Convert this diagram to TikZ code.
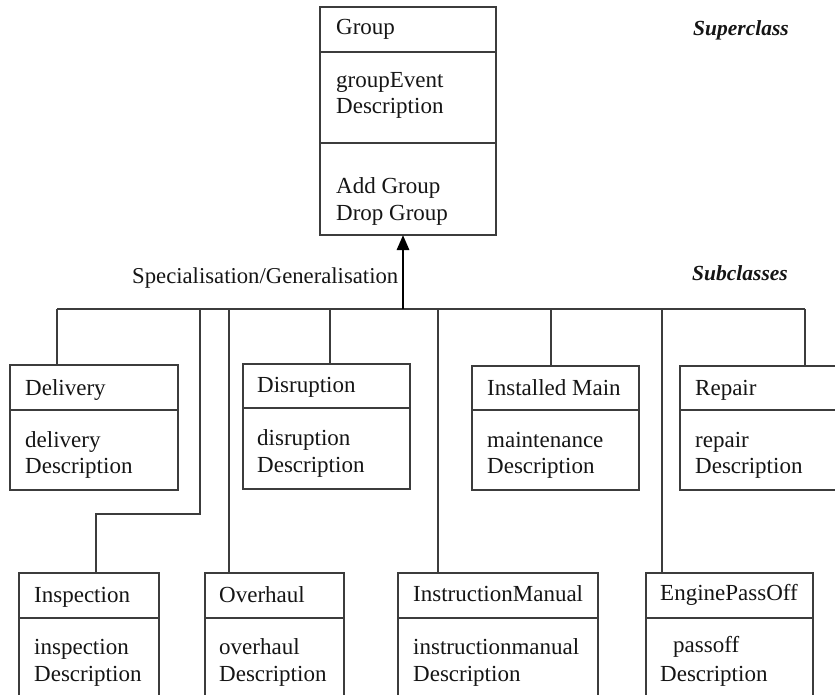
\documentclass[tikz,border=0pt]{standalone}
\usepackage{fontspec}
\setmainfont{Liberation Serif}
\usetikzlibrary{arrows.meta}
\definecolor{edge}{HTML}{3C3C3C}
\definecolor{ink}{HTML}{151515}
\tikzset{
  x=1pt, y=-1pt,
  classbox/.style={draw=edge, line width=1.6pt, rectangle, inner sep=0pt, outer sep=0pt, anchor=north west},
  divider/.style={draw=edge, line width=1.6pt},
  link/.style={draw=edge, line width=1.6pt},
  lbl/.style={anchor=base west, inner sep=0pt, text=ink, font=\fontsize{23}{26}\selectfont},
  tag/.style={anchor=base west, inner sep=0pt, text=ink, font=\fontsize{21.5}{24}\selectfont\bfseries\itshape},
}
\begin{document}
\begin{tikzpicture}
\useasboundingbox (0,0) rectangle (835,695);
\clip (0,0) rectangle (835,695);
\fill[white] (0,0) rectangle (835,695);

% superclass
\node[classbox, minimum width=176pt, minimum height=228pt] (group) at (320,7) {};
\draw[divider] (320,52) -- (496,52);
\draw[divider] (320,143) -- (496,143);
\node[lbl] (groupT) at (336,35) {Group};
\node[lbl] (groupA1) at (336,88) {groupEvent};
\node[lbl] (groupA2) at (336,114) {Description};
\node[lbl] (groupO1) at (336,194) {Add Group};
\node[lbl] (groupO2) at (336,221) {Drop Group};

% upper row of subclasses
\node[classbox, minimum width=168pt, minimum height=125pt] (delivery) at (10,365) {};
\draw[divider] (10,410) -- (178,410);
\node[lbl] (deliveryT) at (25,395) {Delivery};
\node[lbl] (deliveryA1) at (25,447) {delivery};
\node[lbl] (deliveryA2) at (25,473) {Description};

\node[classbox, minimum width=167pt, minimum height=125pt] (disruption) at (243,364) {};
\draw[divider] (243,408) -- (410,408);
\node[lbl] (disruptionT) at (257,392) {Disruption};
\node[lbl] (disruptionA1) at (257,445) {disruption};
\node[lbl] (disruptionA2) at (257,472) {Description};

\node[classbox, minimum width=167pt, minimum height=124pt] (installed) at (472,366) {};
\draw[divider] (472,410) -- (639,410);
\node[lbl] (installedT) at (487,395) {Installed Main};
\node[lbl] (installedA1) at (487,447) {maintenance};
\node[lbl] (installedA2) at (487,473) {Description};

\node[classbox, minimum width=180pt, minimum height=124pt] (repair) at (680,366) {};
\draw[divider] (680,410) -- (860,410);
\node[lbl] (repairT) at (695,395) {Repair};
\node[lbl] (repairA1) at (695,447) {repair};
\node[lbl] (repairA2) at (695,473) {Description};

% lower row of subclasses
\node[classbox, minimum width=140pt, minimum height=150pt] (inspection) at (19,573) {};
\draw[divider] (19,618) -- (159,618);
\node[lbl] (inspectionT) at (34,602) {Inspection};
\node[lbl] (inspectionA1) at (34,654) {inspection};
\node[lbl] (inspectionA2) at (34,681) {Description};

\node[classbox, minimum width=139pt, minimum height=150pt] (overhaul) at (205,573) {};
\draw[divider] (205,618) -- (344,618);
\node[lbl] (overhaulT) at (219,602) {Overhaul};
\node[lbl] (overhaulA1) at (219,654) {overhaul};
\node[lbl] (overhaulA2) at (219,681) {Description};

\node[classbox, minimum width=200pt, minimum height=150pt] (instruction) at (398,573) {};
\draw[divider] (398,618) -- (598,618);
\node[lbl] (instructionT) at (413,601) {InstructionManual};
\node[lbl] (instructionA1) at (413,654) {instructionmanual};
\node[lbl] (instructionA2) at (413,681) {Description};

\node[classbox, minimum width=167pt, minimum height=150pt] (engine) at (646,573) {};
\draw[divider] (646,618) -- (813,618);
\node[lbl] (engineT) at (660,600) {EnginePassOff};
\node[lbl] (engineA1) at (673,652) {passoff};
\node[lbl] (engineA2) at (660,681) {Description};

% generalisation bus
\coordinate (busL) at (57,309);
\coordinate (busR) at (805,309);
\coordinate (bInsp) at (200,309);
\coordinate (jInsp) at (96,514);
\coordinate (bOver) at (229,309);
\coordinate (bDisr) at (330,309);
\coordinate (bUp) at (403,309);
\coordinate (bInst) at (438,309);
\coordinate (bMain) at (551,309);
\coordinate (bEng) at (662,309);

\draw[link] (busL) -- (busR);
\draw[link] (busL) -- (busL |- delivery.north);
\draw[link] (bInsp) -- (bInsp |- jInsp) -- (jInsp) -- (jInsp |- inspection.north);
\draw[link] (bOver) -- (bOver |- overhaul.north);
\draw[link] (bDisr) -- (bDisr |- disruption.north);
\draw[link] (bInst) -- (bInst |- instruction.north);
\draw[link] (bMain) -- (bMain |- installed.north);
\draw[link] (bEng) -- (bEng |- engine.north);
\draw[link] (busR) -- (busR |- repair.north);
\draw[line width=2.8pt, black, -{Triangle[length=15pt,width=12pt]}] (bUp) -- (bUp |- group.south);

% labels
\node[lbl, font=\fontsize{22.7}{26}\selectfont] (genLbl) at (132,283) {Specialisation/Generalisation};
\node[tag] (superLbl) at (693,36) {Superclass};
\node[tag] (subLbl) at (692,280) {Subclasses};
\end{tikzpicture}
\end{document}
